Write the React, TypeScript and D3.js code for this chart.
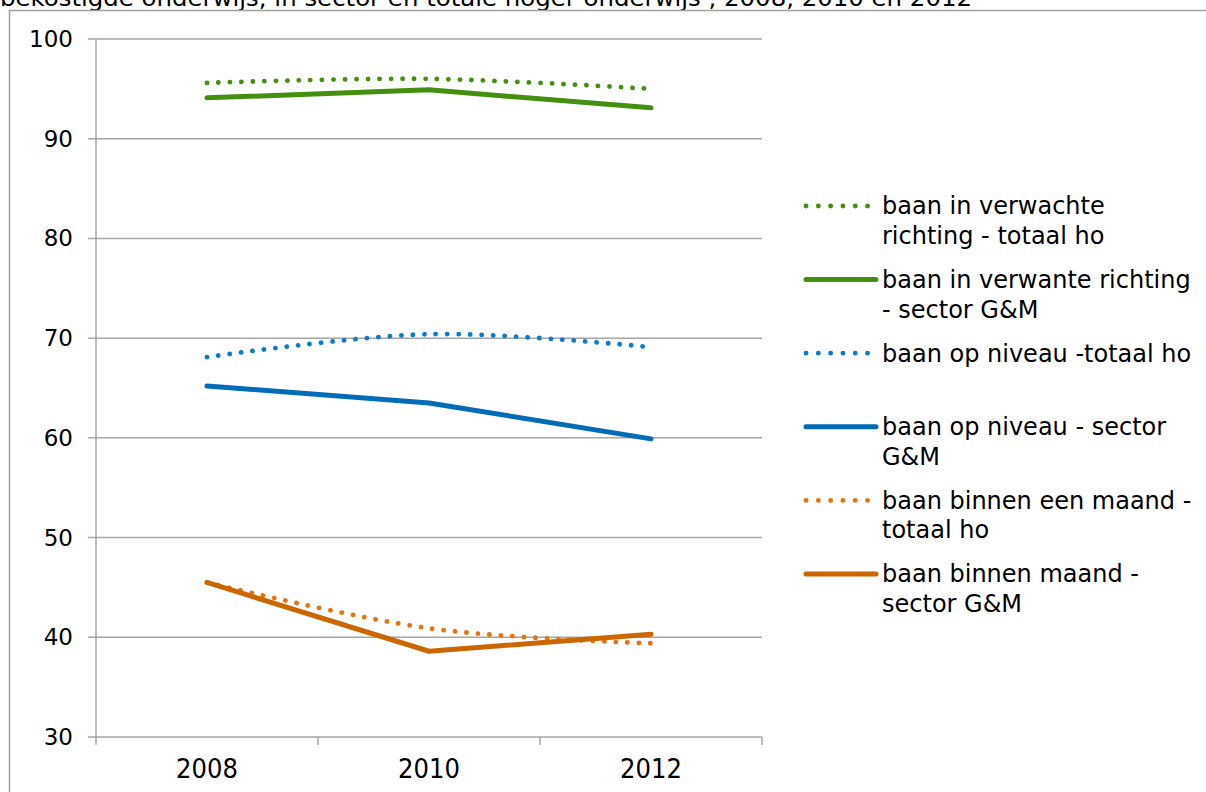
import React from "react";
import * as d3 from "d3";

const years = ["2008", "2010", "2012"];
const yTicks = [30, 40, 50, 60, 70, 80, 90, 100];

const verwachtTotaal = [95.6, 96.0, 95.0];
const verwantSector = [94.1, 94.9, 93.1];
const niveauTotaal = [68.1, 70.4, 69.1];
const niveauSector = [65.2, 63.5, 59.9];
const maandTotaal = [45.5, 40.9, 39.4];
const maandSector = [45.5, 38.6, 40.3];

const titleText =
  "bekostigde onderwijs, in sector en totale hoger onderwijs , 2008, 2010 en 2012";

interface Series {
  lines: string[];
  values: number[];
  color: string;
  dotted: boolean;
}

const series: Series[] = [
  { lines: ["baan in verwachte", "richting - totaal ho"], values: verwachtTotaal, color: "#43900f", dotted: true },
  { lines: ["baan in verwante richting", "- sector G&M"], values: verwantSector, color: "#43900f", dotted: false },
  { lines: ["baan op niveau -totaal ho"], values: niveauTotaal, color: "#0a7ccc", dotted: true },
  { lines: ["baan op niveau - sector", "G&M"], values: niveauSector, color: "#006cb8", dotted: false },
  { lines: ["baan binnen een maand -", "totaal ho"], values: maandTotaal, color: "#e8730c", dotted: true },
  { lines: ["baan binnen maand -", "sector G&M"], values: maandSector, color: "#cc6600", dotted: false },
];

const font = "'DejaVu Sans', Verdana, sans-serif";
const condensed = "'DejaVu Sans Condensed', 'DejaVu Sans', sans-serif";
const grid = "#a6a6a6";

export default function App() {
  const left = 96;
  const right = 762;
  const top = 39;
  const bottom = 737;

  const x = d3.scaleBand<string>().domain(years).range([left, right]);
  const y = d3.scaleLinear().domain([30, 100]).range([bottom, top]);
  const cx = (i: number) => (x(years[i]) as number) + x.bandwidth() / 2;

  const straight = d3
    .line<number>()
    .x((_, i) => cx(i))
    .y((d) => y(d));
  const smooth = d3
    .line<number>()
    .x((_, i) => cx(i))
    .y((d) => y(d))
    .curve(d3.curveCardinal.tension(0));

  const legendX = 806;
  const legendTop = 206;
  const legendStep = 73.6;

  return (
    <svg
      width={1206}
      height={792}
      style={{ position: "absolute", left: 0, top: 0, background: "#fff" }}
    >
      {/* title, cut off at the top like the source */}
      <text
        x={0}
        y={6}
        fontFamily={font}
        fontSize={23}
        fill="#000"
        textLength={972}
        lengthAdjust="spacingAndGlyphs"
      >
        {titleText}
      </text>
      <rect x={9.5} y={10.5} width={1300} height={900} fill="none" stroke="#a0a0a0" strokeWidth={1.5} />

      {/* gridlines + y ticks */}
      {yTicks.map((t) => (
        <g key={t}>
          <line x1={left - 8} x2={right} y1={y(t)} y2={y(t)} stroke={grid} strokeWidth={1.5} />
          <text
            x={73}
            y={y(t)}
            dy="0.35em"
            textAnchor="end"
            fontFamily={font}
            fontSize={23}
            fill="#000"
          >
            {t}
          </text>
        </g>
      ))}
      <line x1={left} x2={left} y1={top} y2={bottom} stroke={grid} strokeWidth={1.5} />

      {/* x ticks */}
      {[...years.map((yr) => x(yr) as number), right].map((p, i) => (
        <line key={i} x1={p} x2={p} y1={bottom} y2={bottom + 8} stroke={grid} strokeWidth={1.5} />
      ))}
      {years.map((yr, i) => (
        <text
          key={yr}
          x={cx(i)}
          y={778}
          textAnchor="middle"
          fontFamily={condensed}
          fontSize={27}
          fill="#000"
        >
          {yr}
        </text>
      ))}

      {/* series */}
      {series.map((s, i) => (
        <path
          key={i}
          d={(s.dotted ? smooth(s.values) : straight(s.values)) as string}
          fill="none"
          stroke={s.color}
          strokeWidth={s.dotted ? 4.8 : 5}
          strokeLinecap="round"
          strokeLinejoin="round"
          strokeDasharray={s.dotted ? "0.1 11.4" : undefined}
        />
      ))}

      {/* legend */}
      {series.map((s, i) => {
        const ly = legendTop + i * legendStep;
        return (
          <g key={i}>
            <line
              x1={legendX}
              x2={s.dotted ? 868 : 876}
              y1={ly}
              y2={ly}
              stroke={s.color}
              strokeWidth={s.dotted ? 4.8 : 5}
              strokeLinecap="round"
              strokeDasharray={s.dotted ? "0.1 12.2" : undefined}
            />
            {s.lines.map((ln, j) => (
              <text
                key={j}
                x={882}
                y={ly + j * 29.5}
                dy="0.35em"
                fontFamily={font}
                fontSize={24}
                fill="#000"
              >
                {ln}
              </text>
            ))}
          </g>
        );
      })}
    </svg>
  );
}
